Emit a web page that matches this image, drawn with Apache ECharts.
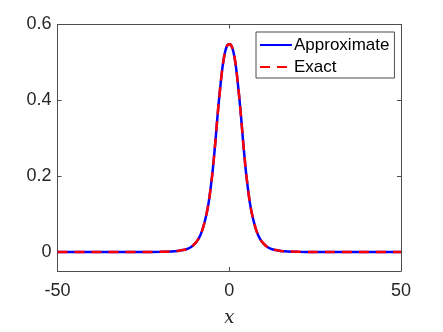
<!DOCTYPE html>
<html>
<head>
<meta charset="utf-8">
<script src="https://cdn.jsdelivr.net/npm/echarts@6/dist/echarts.min.js"></script>
<style>
  html, body { margin: 0; padding: 0; background: #fff; }
  #chart { width: 443px; height: 332px; }
</style>
</head>
<body>
<div id="chart"></div>
<script>
// x positions and values
const xs = [-50, -40, -30, -25, -20, -17, -15, -13, -12, -11, -10, -9, -8, -7, -6, -5, -4.5, -4, -3.5, -3, -2.5, -2, -1.5, -1, -0.5,
  0, 0.5, 1, 1.5, 2, 2.5, 3, 3.5, 4, 4.5, 5, 6, 7, 8, 9, 10, 11, 12, 13, 15, 17, 20, 25, 30, 40, 50];
const approxY = [0, 0, 0, 0.0002, 0.0006, 0.0015, 0.003, 0.006, 0.009, 0.014, 0.022, 0.034, 0.054, 0.085, 0.13, 0.2, 0.245, 0.295, 0.35, 0.4, 0.445, 0.485, 0.515, 0.535, 0.546,
  0.548, 0.546, 0.535, 0.515, 0.485, 0.445, 0.4, 0.35, 0.295, 0.245, 0.2, 0.13, 0.085, 0.054, 0.034, 0.022, 0.014, 0.009, 0.006, 0.003, 0.0015, 0.0006, 0.0002, 0, 0, 0];
const exactY = [0, 0, 0, 0.0002, 0.0006, 0.0015, 0.003, 0.006, 0.009, 0.014, 0.022, 0.034, 0.054, 0.085, 0.13, 0.2, 0.245, 0.295, 0.35, 0.4, 0.445, 0.485, 0.515, 0.535, 0.546,
  0.548, 0.546, 0.535, 0.515, 0.485, 0.445, 0.4, 0.35, 0.295, 0.245, 0.2, 0.13, 0.085, 0.054, 0.034, 0.022, 0.014, 0.009, 0.006, 0.003, 0.0015, 0.0006, 0.0002, 0, 0, 0];
const xTicks = [-50, 0, 50];
const yTicks = [0, 0.2, 0.4, 0.6];

const frameColor = "#4d4d4d";
const textColor = "#262626";
const font = "Liberation Sans, Arial, sans-serif";

function pairs(ys) {
  return xs.map((x, i) => [x, ys[i]]);
}

const chart = echarts.init(document.getElementById("chart"));

const axisBase = {
  type: "value",
  splitLine: { show: false },
  axisLine: { show: true, onZero: false, lineStyle: { color: frameColor, width: 1 } }
};

chart.setOption({
  animation: false,
  grid: { left: 57.5, right: 42, top: 24.5, bottom: 56.5 },
  legend: {
    orient: "vertical",
    left: 256,
    top: 32,
    data: ["Approximate", "Exact"],
    itemWidth: 32,
    itemHeight: 14,
    itemGap: 4,
    padding: [4, 5, 2, 3],
    backgroundColor: "#fff",
    borderColor: frameColor,
    borderWidth: 1,
    itemStyle: { color: "transparent", opacity: 0, borderWidth: 0 },
    textStyle: { color: "#000", fontSize: 17, lineHeight: 18, fontFamily: font, padding: [0, 0, 0, -3] }
  },
  xAxis: [
    Object.assign({}, axisBase, {
      min: -50, max: 50,
      name: "x",
      nameLocation: "middle",
      nameGap: 38,
      nameTextStyle: { fontFamily: "DejaVu Serif, serif", fontStyle: "italic", fontSize: 18, color: textColor },
      axisTick: { inside: true, length: 4, customValues: xTicks, lineStyle: { color: frameColor } },
      axisLabel: { customValues: xTicks, margin: 11, fontSize: 18, fontFamily: font, color: textColor }
    }),
    Object.assign({}, axisBase, {
      position: "top",
      min: -50, max: 50,
      axisTick: { inside: true, length: 4, customValues: xTicks, lineStyle: { color: frameColor } },
      axisLabel: { show: false }
    })
  ],
  yAxis: [
    Object.assign({}, axisBase, {
      min: -0.05, max: 0.6,
      axisTick: { inside: true, length: 4, customValues: yTicks, lineStyle: { color: frameColor } },
      axisLabel: { customValues: yTicks, margin: 6, fontSize: 18, fontFamily: font, color: textColor }
    }),
    Object.assign({}, axisBase, {
      position: "right",
      min: -0.05, max: 0.6,
      axisTick: { inside: true, length: 4, customValues: yTicks, lineStyle: { color: frameColor } },
      axisLabel: { show: false }
    })
  ],
  series: [
    {
      name: "Approximate",
      type: "line",
      data: pairs(approxY),
      symbol: "none",
      smooth: 0.3,
      lineStyle: { color: "#0000ff", width: 2.5 },
      itemStyle: { color: "#0000ff" }
    },
    {
      name: "Exact",
      type: "line",
      data: pairs(exactY),
      symbol: "none",
      smooth: 0.3,
      lineStyle: { color: "#ff0000", width: 2.5, type: [10, 7] },
      itemStyle: { color: "#ff0000" }
    }
  ]
});
</script>
</body>
</html>
